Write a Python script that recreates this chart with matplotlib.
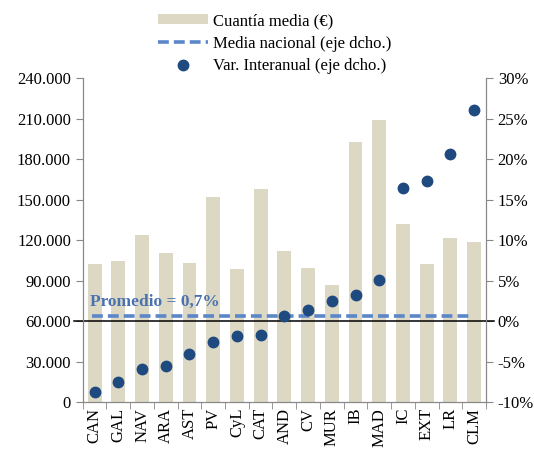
import numpy as np
import matplotlib.pyplot as plt
from matplotlib.ticker import FuncFormatter, FixedLocator

plt.rcParams['font.family'] = ['Liberation Serif', 'DejaVu Serif']

# datos
regiones = ['CAN', 'GAL', 'NAV', 'ARA', 'AST', 'PV', 'CyL', 'CAT', 'AND',
            'CV', 'MUR', 'IB', 'MAD', 'IC', 'EXT', 'LR', 'CLM']
cuantia = [102200, 104900, 124100, 110500, 103200, 152300, 98700, 158000, 112300,
           99500, 86900, 192600, 208900, 132300, 102200, 121500, 118700]
var_interanual = [-8.7, -7.5, -5.9, -5.5, -4.0, -2.6, -1.85, -1.7, 0.7,
                  1.4, 2.5, 3.3, 5.1, 16.5, 17.3, 20.7, 26.1]
promedio = 0.7

x = np.arange(len(regiones))

fig = plt.figure(figsize=(5.34, 4.5), dpi=100)
ax = fig.add_axes([0.155, 0.106, 0.755, 0.72])
ax2 = ax.twinx()

# barras en eje izquierdo
b = ax.bar(x, cuantia, width=0.58, color='#ddd8c4', zorder=1)
ax.set_ylim(0, 240000)
ax.set_xlim(-0.5, len(regiones) - 0.5)
ax.set_yticks(np.arange(0, 240001, 30000))
ax.yaxis.set_major_formatter(FuncFormatter(lambda v, p: '{:,.0f}'.format(v).replace(',', '.')))

# eje derecho
ax2.set_ylim(-10, 30)
ax2.set_yticks(np.arange(-10, 31, 5))
ax2.yaxis.set_major_formatter(FuncFormatter(lambda v, p: '{:.0f}%'.format(v)))
ax2.plot([-0.85, len(regiones) - 0.15], [0, 0], color='black', lw=1.1, clip_on=False, zorder=2)
l, = ax2.plot([-0.1, len(regiones) - 1.1], [promedio, promedio], color='#5b87c8', lw=2.6,
              dashes=(3, 1.4), zorder=3)
s, = ax2.plot(x, var_interanual, 'o', color='#1f4a80', ms=7.5, zorder=4)
ax2.text(-0.2, 1.9, 'Promedio = 0,7%', color='#4a72b0', fontweight='bold', fontsize=12.5)

# ejes y ticks
ax.set_xticks(x)
ax.set_xticklabels(regiones, rotation=90)
ax.tick_params(axis='x', length=0, pad=4, labelsize=12)
ax.xaxis.set_minor_locator(FixedLocator(np.arange(-0.5, len(regiones), 1)))
ax.tick_params(axis='x', which='minor', length=5, color='#888888')
ax.tick_params(axis='y', labelsize=12, length=5, color='#888888')
ax2.tick_params(axis='y', labelsize=12, length=5, color='#888888')
for a in (ax, ax2):
    a.spines['top'].set_visible(False)
    for sp in ('left', 'right', 'bottom'):
        a.spines[sp].set_color('#888888')

fig.legend([b, l, s], ['Cuantía media (€)', 'Media nacional (eje dcho.)',
                       'Var. Interanual (eje dcho.)'],
           loc='upper center', bbox_to_anchor=(0.515, 0.993), frameon=False,
           fontsize=12, handlelength=3.0, handleheight=0.5, labelspacing=0.4,
           handletextpad=0.3, borderaxespad=0.2)

plt.savefig('out.png', dpi=100)
